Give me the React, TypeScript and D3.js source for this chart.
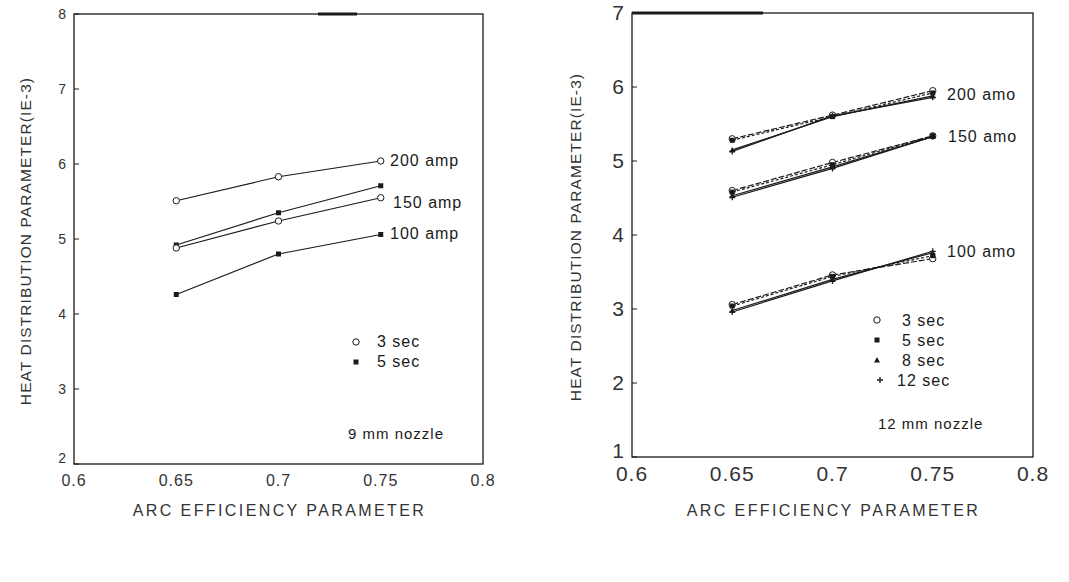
import * as d3 from "d3";
import React from "react";

const width = 1069;
const height = 582;

// x values shared by both panels
const arcEff = [0.65, 0.7, 0.75];
const xTicks = [0.6, 0.65, 0.7, 0.75, 0.8];

// left panel, 9 mm nozzle
const left200_3s = [5.51, 5.83, 6.04];
const left150_5s = [4.92, 5.35, 5.71];
const left150_3s = [4.88, 5.24, 5.55];
const left100_5s = [4.26, 4.8, 5.06];
const leftYTicks = [2, 3, 4, 5, 6, 7, 8];

// right panel, 12 mm nozzle
const right200 = {
  s3: [5.3, 5.62, 5.95],
  s5: [5.28, 5.6, 5.92],
  s8: [5.15, 5.6, 5.88],
  s12: [5.13, 5.61, 5.86],
};
const right150 = {
  s3: [4.6, 4.98, 5.34],
  s5: [4.58, 4.95, 5.34],
  s8: [4.53, 4.92, 5.33],
  s12: [4.51, 4.9, 5.33],
};
const right100 = {
  s3: [3.06, 3.46, 3.68],
  s5: [3.04, 3.44, 3.72],
  s8: [2.98, 3.4, 3.76],
  s12: [2.96, 3.38, 3.78],
};
const rightYTicks = [1, 2, 3, 4, 5, 6, 7];

const ink = "#1a1a1a";
const grey = "#333";
const font = "'Liberation Sans', Arial, sans-serif";

type Marker = "circle" | "square" | "tri" | "plus";

const Mark = ({ x, y, m }: { x: number; y: number; m: Marker }) => {
  if (m === "circle")
    return <circle cx={x} cy={y} r={3.2} fill="#fff" stroke={ink} strokeWidth={1} />;
  if (m === "square")
    return <rect x={x - 2.5} y={y - 2.5} width={5} height={5} fill={ink} />;
  if (m === "tri")
    return (
      <path
        d={`M${x},${y - 3}L${x + 3},${y + 2.5}L${x - 3},${y + 2.5}Z`}
        fill={ink}
      />
    );
  return (
    <path
      d={`M${x - 3},${y}H${x + 3}M${x},${y - 3}V${y + 3}`}
      stroke={ink}
      strokeWidth={1.3}
    />
  );
};

const Series = ({
  vals,
  x,
  y,
  m,
  dash,
}: {
  vals: number[];
  x: d3.ScaleLinear<number, number>;
  y: d3.ScaleLinear<number, number>;
  m: Marker;
  dash?: string;
}) => {
  const line = d3
    .line<number>()
    .x((_, i) => x(arcEff[i]))
    .y((d) => y(d));
  return (
    <g>
      <path d={line(vals) || ""} fill="none" stroke={ink} strokeWidth={1.2} strokeDasharray={dash} />
      {vals.map((v, i) => (
        <Mark key={i} x={x(arcEff[i])} y={y(v)} m={m} />
      ))}
    </g>
  );
};

const Frame = ({
  x,
  y,
  yTicks,
  xTickSize,
  yTickSize,
  xTickY,
  yTitleX,
  thick,
}: {
  x: d3.ScaleLinear<number, number>;
  y: d3.ScaleLinear<number, number>;
  yTicks: number[];
  xTickSize: number;
  yTickSize: number;
  xTickY: number;
  yTitleX: number;
  thick: [number, number];
}) => {
  const [x0, x1] = x.range();
  const [y0, y1] = y.range();
  return (
    <g fontFamily={font} fill={grey}>
      <rect x={x0} y={y1} width={x1 - x0} height={y0 - y1} fill="none" stroke={ink} strokeWidth={1.3} />
      <line x1={thick[0]} x2={thick[1]} y1={y1} y2={y1} stroke={ink} strokeWidth={3} />
      {yTicks.map((t, i) => (
        <g key={t}>
          <line x1={x0} x2={x0 + 5} y1={y(t)} y2={y(t)} stroke={ink} strokeWidth={1} />
          <text
            x={x0 - 8}
            y={y(t) - (i === 0 ? 6 : 0)}
            dy="0.35em"
            textAnchor="end"
            fontSize={yTickSize}
          >
            {t}
          </text>
        </g>
      ))}
      {xTicks.map((t) => (
        <text key={t} x={x(t)} y={xTickY} textAnchor="middle" fontSize={xTickSize} letterSpacing={1}>
          {String(t)}
        </text>
      ))}
      <text x={(x0 + x1) / 2 + 1} y={516} textAnchor="middle" fontSize={16} letterSpacing={2.4}>
        ARC EFFICIENCY PARAMETER
      </text>
      <text
        transform={`translate(${yTitleX},${(y0 + y1) / 2 + 2}) rotate(-90)`}
        textAnchor="middle"
        fontSize={15.5}
        letterSpacing={1.1}
      >
        HEAT DISTRIBUTION PARAMETER(IE-3)
      </text>
    </g>
  );
};

const App = () => {
  const xL = d3.scaleLinear().domain([0.6, 0.8]).range([74, 483]);
  const yL = d3.scaleLinear().domain([2, 8]).range([464, 14]);
  const xR = d3.scaleLinear().domain([0.6, 0.8]).range([632, 1033]);
  const yR = d3.scaleLinear().domain([1, 7]).range([457, 13]);

  const rightGroups = [right200, right150, right100];

  return (
    <svg
      width={width}
      height={height}
      style={{ position: "absolute", left: 0, top: 0, background: "#fff" }}
    >
      <rect width={width} height={height} fill="#fff" />
      {/* left panel */}
      <Frame x={xL} y={yL} yTicks={leftYTicks} xTickSize={16} yTickSize={14} xTickY={486} yTitleX={31} thick={[318, 357]} />
      <Series vals={left200_3s} x={xL} y={yL} m="circle" />
      <Series vals={left150_5s} x={xL} y={yL} m="square" />
      <Series vals={left150_3s} x={xL} y={yL} m="circle" />
      <Series vals={left100_5s} x={xL} y={yL} m="square" />
      <g fontFamily={font} fontSize={16} fill={ink} letterSpacing={1}>
        <text x={390} y={166}>200 amp</text>
        <text x={393} y={208}>150 amp</text>
        <text x={390} y={239}>100 amp</text>
        <Mark x={356} y={342} m="circle" />
        <text x={377} y={347}>3 sec</text>
        <Mark x={356} y={362} m="square" />
        <text x={377} y={367}>5 sec</text>
        <text x={348} y={439} fontSize={15}>9 mm nozzle</text>
      </g>

      {/* right panel */}
      <Frame x={xR} y={yR} yTicks={rightYTicks} xTickSize={21} yTickSize={21} xTickY={481} yTitleX={581} thick={[632, 763]} />
      {rightGroups.map((g, i) => (
        <g key={i}>
          <Series vals={g.s3} x={xR} y={yR} m="circle" dash="6,2" />
          <Series vals={g.s5} x={xR} y={yR} m="square" dash="3,2" />
          <Series vals={g.s8} x={xR} y={yR} m="tri" />
          <Series vals={g.s12} x={xR} y={yR} m="plus" />
        </g>
      ))}
      <g fontFamily={font} fontSize={16} fill={ink} letterSpacing={1}>
        <text x={947} y={100}>200 amo</text>
        <text x={948} y={142}>150 amo</text>
        <text x={947} y={257}>100 amo</text>
        <Mark x={877} y={320} m="circle" />
        <text x={902} y={326}>3 sec</text>
        <Mark x={877} y={340} m="square" />
        <text x={902} y={346}>5 sec</text>
        <Mark x={877} y={360} m="tri" />
        <text x={902} y={366}>8 sec</text>
        <Mark x={880} y={380} m="plus" />
        <text x={897} y={386}>12 sec</text>
        <text x={878} y={429} fontSize={15}>12 mm nozzle</text>
      </g>
    </svg>
  );
};

export default App;
